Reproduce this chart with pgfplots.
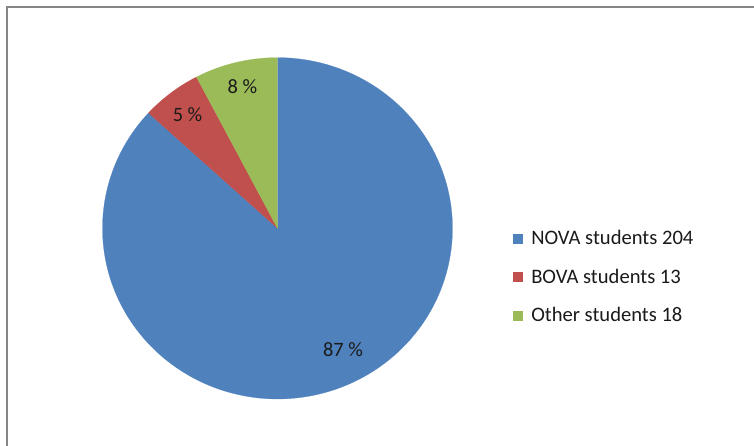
\documentclass[border=0pt]{standalone}
\usepackage{pgfplots}
\usepackage{pgfplotstable}
\pgfplotsset{compat=1.18}
\usepackage{fontspec}
\setmainfont{Carlito}
\definecolor{novablue}{HTML}{4F81BD}
\definecolor{bovared}{HTML}{C0504D}
\definecolor{othergreen}{HTML}{9BBB59}
\definecolor{framegray}{HTML}{868686}
\definecolor{txt}{HTML}{1A1A1A}

\pgfplotstableread{
name value
NOVA 204
BOVA 13
Other 18
}\piedata

\begin{document}
\begin{tikzpicture}
\pgfplotstablegetelem{0}{value}\of\piedata \let\va\pgfplotsretval
\pgfplotstablegetelem{1}{value}\of\piedata \let\vb\pgfplotsretval
\pgfplotstablegetelem{2}{value}\of\piedata \let\vc\pgfplotsretval
\pgfmathsetmacro{\tot}{\va+\vb+\vc}
\pgfmathsetmacro{\aA}{90-360*(\va/\tot)}
\pgfmathsetmacro{\aB}{\aA-360*(\vb/\tot)}
\pgfmathsetmacro{\aC}{\aB-360*(\vc/\tot)}
\begin{axis}[
  anchor=center,
  scale only axis, width=350pt, height=341.4pt,
  xmin=-1, xmax=1, ymin=-1, ymax=1,
  hide axis, clip=false,
  legend style={at={(axis description cs:1.171,0.358)}, anchor=west,
    draw=none, fill=none, inner sep=0pt,
    nodes={inner sep=0pt, text=txt},
    font=\fontsize{20.6}{24}\selectfont, row sep=22.6pt},
  legend cell align=left,
  legend image code/.code={\fill[#1] (0pt,-4.5pt) rectangle (9pt,4.5pt); \path (18.5pt,0pt);},
]
\addplot[fill=novablue, draw=novablue, line width=0.2pt, data cs=polar, domain=\aA:90, samples=200] ({x},{1}) -- (axis cs:0,0) -- cycle;
\addlegendentry{NOVA students 204}
\addplot[fill=bovared, draw=bovared, line width=0.2pt, data cs=polar, domain=\aB:\aA, samples=40] ({x},{1}) -- (axis cs:0,0) -- cycle;
\addlegendentry{BOVA students 13}
\addplot[fill=othergreen, draw=othergreen, line width=0.2pt, data cs=polar, domain=\aC:\aB, samples=40] ({x},{1}) -- (axis cs:0,0) -- cycle;
\addlegendentry{Other students 18}
\node[font=\fontsize{20.4}{24}\selectfont, text=txt] at (axis cs:0.374,-0.713) {87 \%};
\node[font=\fontsize{20.4}{24}\selectfont, text=txt] at (axis cs:-0.514,0.664) {5 \%};
\node[font=\fontsize{20.4}{24}\selectfont, text=txt] at (axis cs:-0.2,0.831) {8 \%};
\end{axis}
\draw[framegray, line width=2pt] (-270.5pt,-240pt) -- (-270.5pt,221.3pt) -- (500pt,221.3pt);
\pgfresetboundingbox
\useasboundingbox (-277.5pt,-216.7pt) rectangle (476.5pt,228.3pt);
\end{tikzpicture}
\end{document}
